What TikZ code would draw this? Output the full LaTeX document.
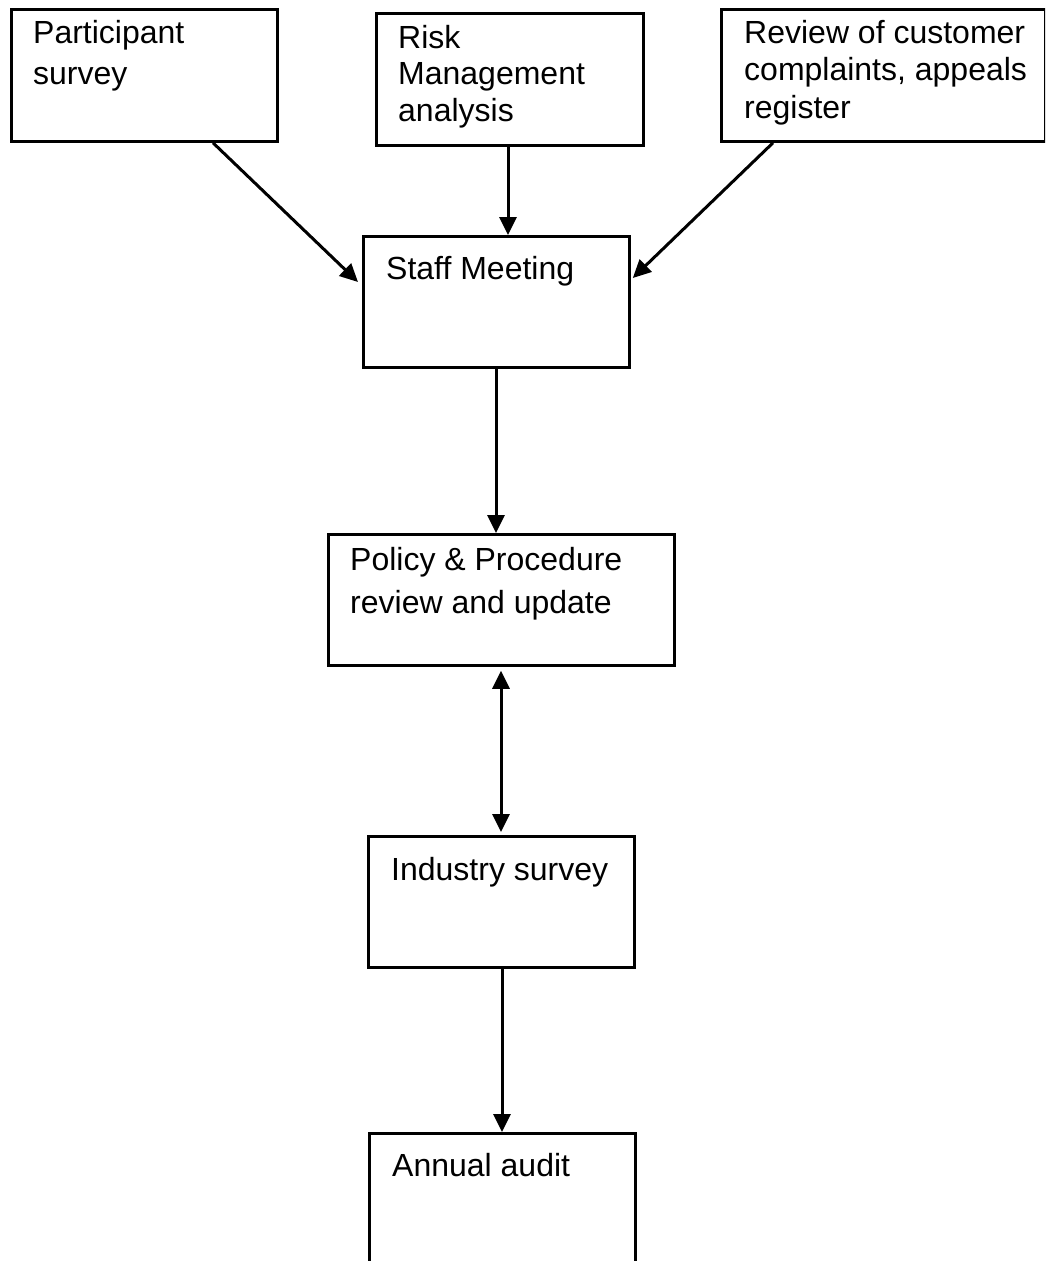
\documentclass[tikz,border=0pt]{standalone}
\usepackage{fontspec}
\setmainfont{Liberation Sans}
\usetikzlibrary{arrows.meta}
\tikzset{
  box/.style={draw=black, line width=2.8pt, rectangle, inner sep=0pt, anchor=north west},
  lbl/.style={inner sep=0pt, align=left, anchor=base west, font=\fontsize{32}{37.5}\selectfont},
  arr/.style={line width=3pt, -{Triangle[length=18pt,width=17pt]}},
  darr/.style={line width=3pt, {Triangle[length=18pt,width=17pt]}-{Triangle[length=18pt,width=17pt]}}
}
\begin{document}
\begin{tikzpicture}[x=1pt,y=1pt]
\useasboundingbox (0,0) rectangle (1045,-1261);
\clip (0,0) rectangle (1045,-1261);
\fill[white] (0,0) rectangle (1045,-1261);
% boxes
\node[box, minimum width=266pt, minimum height=132pt] (ps) at (10,-8) {};
\node[box, minimum width=267pt, minimum height=132pt] (rm) at (375,-12) {};
\node[box, minimum width=324pt, minimum height=132pt] (rc) at (720,-8) {};
\node[box, minimum width=266pt, minimum height=131pt] (sm) at (362,-235) {};
\node[box, minimum width=346pt, minimum height=131pt] (pp) at (327,-533) {};
\node[box, minimum width=266pt, minimum height=131pt] (is) at (367,-835) {};
\node[box, minimum width=266pt, minimum height=200pt] (aa) at (368,-1132) {};
% labels (base anchor = baseline of the last line)
\node[lbl, font=\fontsize{32}{41}\selectfont] (pst) at (33,-84) {Participant\\survey};
\node[lbl, font=\fontsize{32}{36.5}\selectfont] (rmt) at (398,-121) {Risk\\Management\\analysis};
\node[lbl] (rct) at (744,-118) {Review of customer\\complaints, appeals\\register};
\node[lbl] (smt) at (386,-279) {Staff Meeting};
\node[lbl, font=\fontsize{32}{43}\selectfont] (ppt) at (350,-613) {Policy \& Procedure\\review and update};
\node[lbl] (ist) at (391,-880) {Industry survey};
\node[lbl] (aat) at (392,-1176) {Annual audit};
% connectors
\draw[arr] ([xshift=203pt]ps.south west) -- ([xshift=-4pt,yshift=-47pt]sm.north west);
\draw[arr] ([xshift=133pt]rm.south west) -- ([xshift=146pt]sm.north west);
\draw[arr] ([xshift=53pt]rc.south west) -- ([xshift=2pt,yshift=-43pt]sm.north east);
\draw[arr] ([xshift=134pt]sm.south west) -- ([xshift=169pt]pp.north west);
\draw[darr] ([xshift=174pt,yshift=-4pt]pp.south west) -- ([xshift=134pt,yshift=3pt]is.north west);
\draw[arr] ([xshift=135pt]is.south west) -- ([xshift=134pt]aa.north west);
\end{tikzpicture}
\end{document}
